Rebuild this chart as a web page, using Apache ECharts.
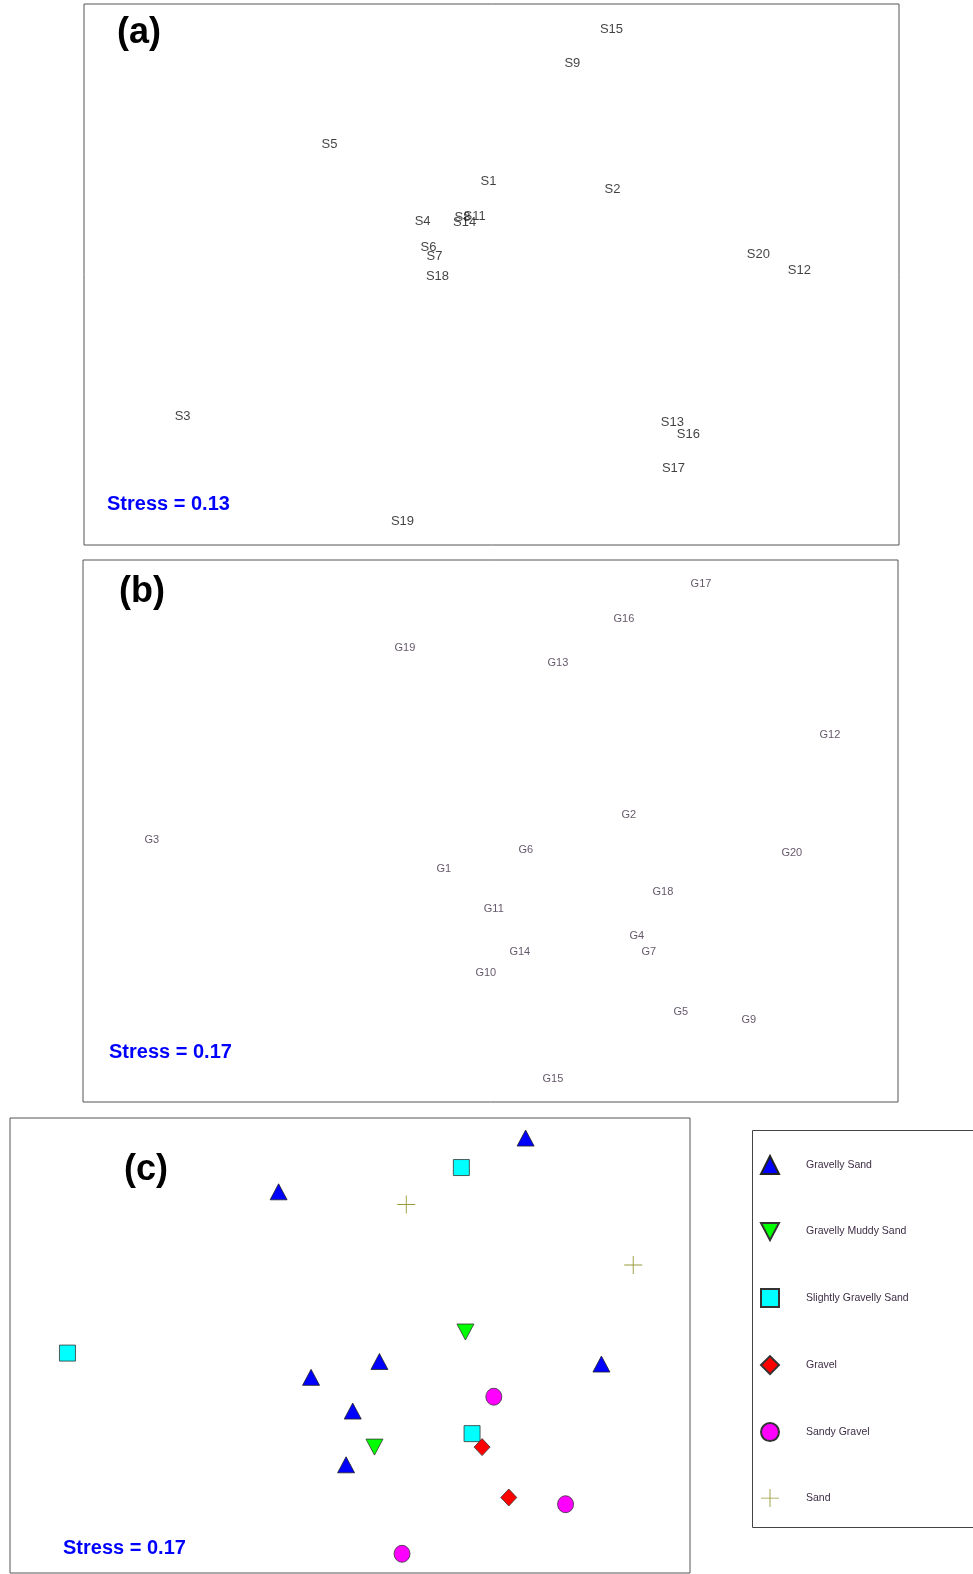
<!DOCTYPE html>
<html>
<head>
<meta charset="utf-8">
<script src="https://cdn.jsdelivr.net/npm/echarts@6/dist/echarts.min.js"></script>
<style>
html,body{margin:0;padding:0;background:#fff;}
#chart{width:973px;height:1574px;}
</style>
</head>
<body>
<div id="chart"></div>
<script>
// ---- Data (MDS ordination coordinates) ----
// Panel (a): sites S
const sitesA = ['S1','S2','S3','S4','S5','S6','S7','S8','S9','S11','S12','S13','S14','S15','S16','S17','S18','S19','S20'];
const xA = [-0.015, 0.594, -1.516, -0.338, -0.795, -0.309, -0.280, -0.142, 0.397, -0.083, 1.511, 0.888, -0.132, 0.589, 0.966, 0.893, -0.265, -0.437, 1.310];
const yA = [0.464, 0.424, -0.706, 0.267, 0.649, 0.137, 0.092, 0.287, 1.055, 0.292, 0.022, -0.736, 0.262, 1.225, -0.796, -0.966, -0.012, -1.230, 0.102];

// Panel (b)/(c): sites G
const sitesG = ['G1','G2','G3','G4','G5','G6','G7','G9','G10','G11','G12','G13','G14','G15','G16','G17','G18','G19','G20'];
const xG = [-0.229, 0.679, -1.662, 0.718, 0.934, 0.173, 0.777, 1.268, -0.023, 0.016, 1.666, 0.331, 0.144, 0.306, 0.655, 1.033, 0.846, -0.420, 1.479];
const yG = [-0.189, 0.080, -0.045, -0.523, -0.902, -0.095, -0.603, -0.942, -0.708, -0.389, 0.478, 0.837, -0.603, -1.236, 1.056, 1.231, -0.304, 0.912, -0.110];

// Panel (c): sediment class of each G site
const classNames = ['Gravelly Sand','Gravelly Muddy Sand','Slightly Gravelly Sand','Gravel','Sandy Gravel','Sand'];
const classG = ['Gravelly Sand','Gravelly Muddy Sand','Slightly Gravelly Sand','Slightly Gravelly Sand','Gravel','Gravelly Sand','Gravel','Sandy Gravel','Gravelly Sand','Gravelly Sand','Sand','Sand','Gravelly Muddy Sand','Sandy Gravel','Slightly Gravelly Sand','Gravelly Sand','Sandy Gravel','Gravelly Sand','Gravelly Sand'];

const stressA = 0.13, stressB = 0.17, stressC = 0.17;

// ---- Styles ----
const classStyle = {
  'Gravelly Sand':          {symbol:'triangle', size:[17,16], color:'#0000ff', border:'#222'},
  'Gravelly Muddy Sand':    {symbol:'path://M0,0L20,0L10,19Z', size:[17,16], color:'#00ff00', border:'#333'},
  'Slightly Gravelly Sand': {symbol:'rect', size:[16,16], color:'#00ffff', border:'#333'},
  'Gravel':                 {symbol:'diamond', size:[16,17], color:'#ff0000', border:'#333'},
  'Sandy Gravel':           {symbol:'circle', size:[16,17], color:'#ff00ff', border:'#333'},
  'Sand':                   {symbol:'path://M0,9.5H20V10.5H0Z M9.5,0H10.5V20H9.5Z', size:[18,18], color:'#99993a', border:null}
};
const sans = "'Liberation Sans',Arial,sans-serif";

const chart = echarts.init(document.getElementById('chart'), null, {renderer:'canvas'});

const gridStyle = {show:true, borderColor:'#555', borderWidth:1, backgroundColor:'rgba(0,0,0,0)'};
const grids = [
  Object.assign({left:84, top:4, width:815, height:541}, gridStyle),
  Object.assign({left:83, top:560, width:815, height:542}, gridStyle),
  Object.assign({left:10, top:1118, width:680, height:455}, gridStyle)
];
const xAxes = [0,1,2].map(i => ({type:'value', gridIndex:i, min:-2, max:2, show:false}));
const yAxes = [0,1,2].map(i => ({type:'value', gridIndex:i, min:-1.35, max:1.35, show:false}));

const textSeries = (names, xs, ys, idx, font, size, color) => ({
  type:'scatter', xAxisIndex:idx, yAxisIndex:idx, symbol:'circle', symbolSize:1,
  itemStyle:{color:'rgba(0,0,0,0)'}, silent:true,
  label:{show:true, position:'inside', formatter:'{b}', fontFamily:font, fontSize:size, color:color},
  data: names.map((n,i)=>({name:n, value:[xs[i], ys[i]]}))
});

const classSeries = classNames.map(cn => {
  const st = classStyle[cn];
  return {
    name: cn, type:'scatter', xAxisIndex:2, yAxisIndex:2,
    symbol: st.symbol, symbolSize: st.size,
    itemStyle: st.border ? {color:st.color, borderColor:st.border, borderWidth:0.8, opacity:1} : {color:st.color, opacity:1},
    data: sitesG.map((n,i)=>({name:n, value:[xG[i], yG[i]], cls:classG[i]})).filter(d=>d.cls===cn).map(d=>({name:d.name, value:d.value}))
  };
});

const panelTitle = (txt, left, top) => ({text:txt, left:left, top:top, padding:0,
  textStyle:{fontFamily:sans, fontWeight:'bold', fontSize:36, color:'#000'}});
const stressTitle = (val, left, top) => ({text:'Stress = ' + val.toFixed(2), left:left, top:top, padding:0,
  textStyle:{fontFamily:sans, fontWeight:'bold', fontSize:20, color:'#0000ff'}});

chart.setOption({
  animation:false,
  backgroundColor:'#ffffff',
  title:[
    panelTitle('(a)', 117, 15),
    panelTitle('(b)', 119, 574),
    panelTitle('(c)', 124, 1152),
    stressTitle(stressA, 107, 494),
    stressTitle(stressB, 109, 1042),
    stressTitle(stressC, 63, 1538)
  ],
  grid: grids,
  xAxis: xAxes,
  yAxis: yAxes,
  legend:{
    data: classNames, orient:'vertical', left:760, top:1155,
    itemWidth:18, itemHeight:18, itemGap:47, selectedMode:false, padding:0,
    textStyle:{fontFamily:sans, fontSize:10.5, color:'#3d2d45', padding:[0,0,0,22]}
  },
  graphic:[
    {type:'rect', shape:{x:752.5, y:1130.5, width:260, height:397}, style:{fill:'none', stroke:'#444', lineWidth:1}, silent:true}
  ],
  series: [
    textSeries(sitesA, xA, yA, 0, sans, 13, '#111'),
    textSeries(sitesG, xG, yG, 1, sans, 11, '#3d2d45')
  ].concat(classSeries)
});
</script>
</body>
</html>
